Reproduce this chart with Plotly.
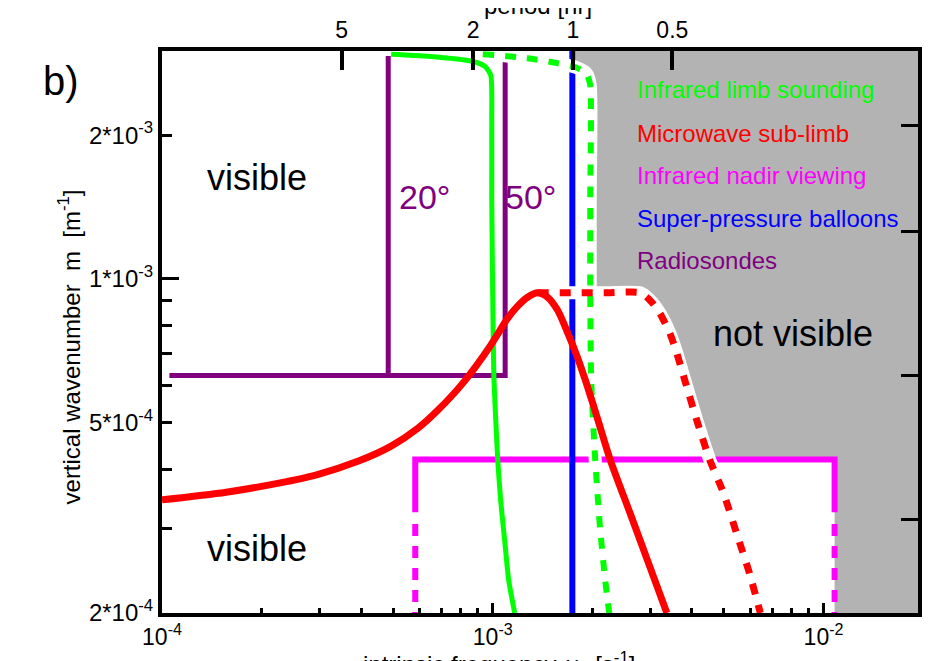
import math
import plotly.graph_objects as go

# ---------------- data ----------------
# Infrared limb sounding (green): solid and dashed limits
green_solid_omega = [4.93e-4, 6.37e-4, 8.65e-4, 9.46e-4, 9.86e-4, 9.93e-4, 9.93e-4, 1.0e-3,
                     1.007e-3, 1.021e-3, 1.035e-3, 1.056e-3, 1.086e-3, 1.117e-3, 1.165e-3]
green_solid_m = [2.955e-3, 2.926e-3, 2.856e-3, 2.788e-3, 2.669e-3, 2.149e-3, 1.462e-3, 9.03e-4,
                 6.36e-4, 5.07e-4, 4.19e-4, 3.45e-4, 2.843e-4, 2.344e-4, 2.0e-4]

green_dash_omega = [9.33e-4, 1.274e-3, 1.569e-3, 1.777e-3, 1.918e-3, 1.971e-3, 1.971e-3, 1.971e-3,
                    1.984e-3, 2.04e-3, 2.113e-3, 2.187e-3, 2.249e-3]
green_dash_m = [2.955e-3, 2.898e-3, 2.829e-3, 2.775e-3, 2.695e-3, 2.544e-3, 1.5e-3, 9.34e-4,
                6.14e-4, 4.19e-4, 2.982e-4, 2.344e-4, 2.0e-4]

# Microwave sub-limb (red)
red_solid_omega = [1.0e-4, 1.563e-4, 2.256e-4, 2.915e-4, 3.926e-4, 4.93e-4, 5.95e-4, 6.83e-4,
                   8.12e-4, 9.86e-4, 1.11e-3, 1.189e-3, 1.274e-3, 1.366e-3, 1.464e-3, 1.569e-3,
                   1.681e-3, 1.801e-3, 1.905e-3, 2.07e-3, 2.264e-3, 2.6e-3, 2.987e-3, 3.36e-3]
red_solid_m = [3.45e-4, 3.58e-4, 3.74e-4, 3.887e-4, 4.159e-4, 4.47e-4, 4.876e-4, 5.317e-4,
               6.055e-4, 7.27e-4, 8.28e-4, 8.775e-4, 9.16e-4, 9.36e-4, 9.16e-4, 8.61e-4,
               7.74e-4, 6.87e-4, 6.14e-4, 5.12e-4, 4.19e-4, 3.237e-4, 2.495e-4, 2.0e-4]

red_dash_omega = [1.366e-3, 2.2e-3, 2.787e-3, 2.987e-3, 3.2e-3, 3.43e-3, 3.6e-3, 3.806e-3,
                  4.135e-3, 4.524e-3, 4.985e-3, 5.455e-3, 5.97e-3, 6.44e-3]
red_dash_m = [9.36e-4, 9.36e-4, 9.36e-4, 9.03e-4, 8.48e-4, 7.7e-4, 7.0e-4, 6.14e-4,
              5.07e-4, 4.19e-4, 3.565e-4, 2.94e-4, 2.424e-4, 2.0e-4]

# Infrared nadir viewing (magenta) box
nadir_omega = [5.83e-4, 1.08e-2]
nadir_m_top = 4.19e-4
nadir_m_solid_end = 3.25e-4
nadir_m_dot_start = 3.07e-4

# Super-pressure balloons (blue)
balloon_omega = 1.74e-3

# Radiosondes (purple)
radio_m = 6.28e-4
radio_omega_left = 1.053e-4
radio_omega_20 = 4.83e-4
radio_m_top_20 = 2.93e-3
radio_omega_50 = 1.09e-3
radio_m_top_50 = 2.87e-3

# axes
omega_range = [1.0e-4, 1.93e-2]
m_range = [2.0e-4, 3.0e-3]
x_major = [1e-4, 1e-3, 1e-2]
x_major_text = ["10<sup>-4</sup>", "10<sup>-3</sup>", "10<sup>-2</sup>"]
x_minor = [2e-4, 3e-4, 4e-4, 5e-4, 6e-4, 7e-4, 8e-4, 9e-4,
           2e-3, 3e-3, 4e-3, 5e-3, 6e-3, 7e-3, 8e-3, 9e-3]
y_labeled = [2e-4, 5e-4, 1e-3, 2e-3]
y_labeled_text = ["2*10<sup>-4</sup>", "5*10<sup>-4</sup>", "1*10<sup>-3</sup>", "2*10<sup>-3</sup>"]
y_minor = [3e-4, 4e-4, 6e-4, 7e-4, 8e-4, 9e-4]
y_long = [1e-3]
periods_hr = [5, 2, 1, 0.5]
period_text = ["5", "2", "1", "0.5"]
wavelengths_km = [3, 5, 10, 20]

legend_labels = ["Infrared limb sounding", "Microwave sub-limb", "Infrared nadir viewing",
                 "Super-pressure balloons", "Radiosondes"]

# ---------------- colours ----------------
GREEN = "#00ff00"
RED = "#ff0000"
MAGENTA = "#ff00ff"
BLUE = "#0000ff"
PURPLE = "#800080"
GRAY = "#b3b3b3"
legend_colors = [GREEN, RED, MAGENTA, BLUE, PURPLE]
FONT = "Liberation Sans, Arial, sans-serif"

fig = go.Figure()

# ---- gray "not visible" region, bounded by the dashed limits ----
gx, gy = [green_dash_omega[3]], [m_range[1]]
for o, m in zip(green_dash_omega, green_dash_m):
    if o >= green_dash_omega[3] and m >= red_dash_m[0]:
        gx.append(o); gy.append(m)
gx.append(green_dash_omega[7]); gy.append(red_dash_m[0])
for o, m in zip(red_dash_omega[2:], red_dash_m[2:]):
    if m >= nadir_m_top:
        gx.append(o); gy.append(m)
gx += [nadir_omega[1], nadir_omega[1], omega_range[1], omega_range[1]]
gy += [nadir_m_top, m_range[0], m_range[0], m_range[1]]
fig.add_trace(go.Scatter(x=gx, y=gy, fill="toself", fillcolor=GRAY, mode="lines",
                         line=dict(width=0, color=GRAY), hoverinfo="skip"))

# ---- magenta nadir box ----
fig.add_trace(go.Scatter(
    x=[nadir_omega[0], nadir_omega[0], nadir_omega[1], nadir_omega[1]],
    y=[nadir_m_solid_end, nadir_m_top, nadir_m_top, nadir_m_solid_end],
    mode="lines", line=dict(color=MAGENTA, width=6), hoverinfo="skip"))
fig.add_trace(go.Scatter(
    x=[nadir_omega[0], nadir_omega[0], None, nadir_omega[1], nadir_omega[1]],
    y=[nadir_m_dot_start, m_range[0], None, nadir_m_dot_start, m_range[0]],
    mode="lines", line=dict(color=MAGENTA, width=6, dash="12px,10px"), hoverinfo="skip"))

# ---- purple radiosondes ----
fig.add_trace(go.Scatter(
    x=[radio_omega_left, radio_omega_50, radio_omega_50],
    y=[radio_m, radio_m, radio_m_top_50],
    mode="lines", line=dict(color=PURPLE, width=5), hoverinfo="skip"))
fig.add_trace(go.Scatter(
    x=[radio_omega_20, radio_omega_20], y=[radio_m, radio_m_top_20],
    mode="lines", line=dict(color=PURPLE, width=5), hoverinfo="skip"))

# ---- blue balloons ----
fig.add_trace(go.Scatter(x=[balloon_omega, balloon_omega], y=m_range, mode="lines",
                         line=dict(color=BLUE, width=6), hoverinfo="skip"))

# ---- white underlays for dashed limits ----
for xs, ys in [(green_dash_omega, green_dash_m), (red_dash_omega, red_dash_m)]:
    fig.add_trace(go.Scatter(x=xs, y=ys, mode="lines",
                             line=dict(color="white", width=13, shape="spline", smoothing=0.6),
                             hoverinfo="skip"))

# ---- dashed limits ----
fig.add_trace(go.Scatter(x=green_dash_omega, y=green_dash_m, mode="lines",
                         line=dict(color=GREEN, width=6, dash="11px,11px", shape="spline",
                                   smoothing=0.6), hoverinfo="skip"))
fig.add_trace(go.Scatter(x=red_dash_omega, y=red_dash_m, mode="lines",
                         line=dict(color=RED, width=7, dash="11px,11px", shape="spline",
                                   smoothing=0.6), hoverinfo="skip"))

# ---- solid curves ----
fig.add_trace(go.Scatter(x=green_solid_omega, y=green_solid_m, mode="lines",
                         line=dict(color=GREEN, width=5, shape="spline", smoothing=0.6),
                         hoverinfo="skip"))
fig.add_trace(go.Scatter(x=red_solid_omega, y=red_solid_m, mode="lines",
                         line=dict(color=RED, width=7, shape="spline", smoothing=0.8),
                         hoverinfo="skip"))

# invisible traces to activate top/right/extra axes
fig.add_trace(go.Scatter(x=[1e-3], y=[1e-3], xaxis="x2", yaxis="y", mode="markers",
                         marker=dict(opacity=0), hoverinfo="skip"))
fig.add_trace(go.Scatter(x=[1e-3], y=[1e-3], xaxis="x", yaxis="y2", mode="markers",
                         marker=dict(opacity=0), hoverinfo="skip"))
fig.add_trace(go.Scatter(x=[1e-3], y=[1e-3], xaxis="x", yaxis="y3", mode="markers",
                         marker=dict(opacity=0), hoverinfo="skip"))

period_omega = [2 * math.pi / (p * 3600.0) for p in periods_hr]
wavelength_m = [2 * math.pi / (l * 1000.0) for l in wavelengths_km]

xr = [math.log10(omega_range[0]), math.log10(omega_range[1])]
yr = [math.log10(m_range[0]), math.log10(m_range[1])]

# the page body adds an 8 px margin, so the figure is 8 px smaller than the window
fig.update_layout(
    width=923, height=653,
    margin=dict(l=154, r=9, t=43, b=48, pad=0),
    plot_bgcolor="white", paper_bgcolor="white",
    showlegend=False,
    font=dict(family=FONT, size=24, color="black"),
    xaxis=dict(type="log", range=xr, autorange=False, showline=True, linecolor="black",
               linewidth=4, mirror=True, ticks="inside", ticklen=10, tickwidth=3,
               tickcolor="black", tickmode="array", tickvals=x_major, ticktext=x_major_text,
               showgrid=False, zeroline=False, tickfont=dict(size=23),
               minor=dict(tickmode="array", tickvals=x_minor, ticks="inside", ticklen=5,
                          tickwidth=2.5, tickcolor="black", showgrid=False)),
    xaxis2=dict(type="log", range=xr, autorange=False, overlaying="x", side="top",
                anchor="y", showline=False, ticks="inside", ticklen=19, tickwidth=3.5,
                tickcolor="black", tickmode="array", tickvals=period_omega,
                ticktext=period_text, showgrid=False, zeroline=False,
                ticklabelstandoff=7, tickfont=dict(size=23)),
    yaxis=dict(type="log", range=yr, autorange=False, showline=True, linecolor="black",
               linewidth=4, mirror=True, ticks="inside", ticklen=10, tickwidth=3,
               tickcolor="black", tickmode="array", tickvals=y_labeled,
               ticktext=y_labeled_text, showgrid=False, zeroline=False,
               tickfont=dict(size=24),
               minor=dict(tickmode="array", tickvals=y_minor, ticks="inside", ticklen=10,
                          tickwidth=3, tickcolor="black", showgrid=False)),
    yaxis2=dict(type="log", range=yr, autorange=False, overlaying="y", side="right",
                anchor="x", showline=False, ticks="inside", ticklen=17, tickwidth=3,
                tickcolor="black", tickmode="array", tickvals=wavelength_m,
                showticklabels=False, showgrid=False, zeroline=False),
    yaxis3=dict(type="log", range=yr, autorange=False, overlaying="y", side="left",
                anchor="x", showline=False, ticks="inside", ticklen=17, tickwidth=3,
                tickcolor="black", tickmode="array", tickvals=y_long,
                showticklabels=False, showgrid=False, zeroline=False),
)

ann = []
def add_text(text, x, y, size, color="black", xanchor="center", angle=0):
    ann.append(dict(text=text, x=x, y=y, xref="paper", yref="paper", showarrow=False,
                    xanchor=xanchor, yanchor="middle", textangle=angle,
                    font=dict(family=FONT, size=size, color=color)))

add_text("b)", -0.134, 0.946, 40)
add_text("visible", 0.125, 0.775, 36)
add_text("visible", 0.1263, 0.1148, 36)
add_text("not visible", 0.834, 0.497, 36)
add_text("20°", 0.3474, 0.7402, 34, PURPLE)
add_text("50°", 0.4868, 0.7402, 34, PURPLE)
leg_y = [0.9311, 0.8529, 0.7781, 0.7016, 0.6269]
for lab, col, yy in zip(legend_labels, legend_colors, leg_y):
    add_text(lab, 0.6263, yy, 24, col, xanchor="left")
add_text("vertical wavenumber  m  [m<sup>-1</sup>]", -0.1224, 0.4733, 24, angle=-90)
add_text("intrinsic frequency ω  [s<sup>-1</sup>]", 0.4463, -0.0884, 24)
add_text("period [hr]", 0.497, 1.0801, 24)
fig.update_layout(annotations=ann)

fig.write_html("out.html")
